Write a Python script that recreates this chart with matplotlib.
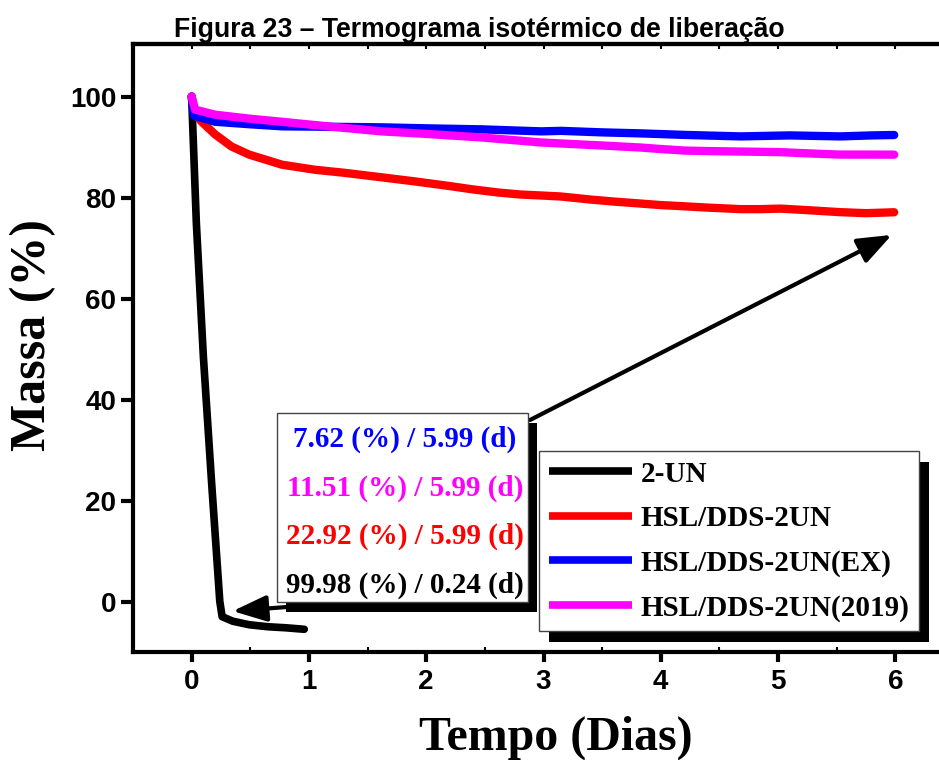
import numpy as np
import matplotlib
matplotlib.use("Agg")
import matplotlib.pyplot as plt
from matplotlib.patches import Rectangle
from matplotlib.ticker import MultipleLocator

# isothermal release data: time (days) vs mass (%)
days_2un = [0, 0.04, 0.10, 0.17, 0.24, 0.26, 0.35, 0.49, 0.65, 0.80, 0.96]
mass_2un = [100.0, 75.0, 48.5, 23.6, 0.02, -3.0, -3.9, -4.6, -5.0, -5.2, -5.5]

days_hsl = [0, 0.02, 0.085, 0.2, 0.34, 0.49, 0.77, 1.05, 1.3, 1.62, 1.9, 2.19, 2.4,
            2.61, 2.8, 2.98, 3.15, 3.4, 3.6, 3.83, 4.0, 4.17, 4.4, 4.68, 4.85,
            5.02, 5.25, 5.53, 5.75, 5.99]
mass_hsl = [100, 96.8, 95.0, 92.5, 90.1, 88.5, 86.5, 85.5, 84.9, 84.0, 83.2, 82.3,
            81.6, 81.0, 80.6, 80.4, 80.2, 79.6, 79.2, 78.8, 78.5, 78.3, 78.0, 77.7,
            77.7, 77.8, 77.5, 77.1, 76.9, 77.08]

days_ex = [0, 0.02, 0.2, 0.5, 0.77, 1.2, 1.62, 2.0, 2.47, 2.98, 3.15, 3.5, 3.83,
           4.2, 4.68, 5.1, 5.53, 5.8, 5.99]
mass_ex = [100, 96.2, 95.0, 94.5, 94.1, 94.0, 93.9, 93.7, 93.5, 93.1, 93.2, 92.9,
           92.7, 92.4, 92.1, 92.3, 92.1, 92.3, 92.38]

days_2019 = [0, 0.03, 0.2, 0.5, 0.77, 1.2, 1.62, 2.0, 2.47, 2.98, 3.15, 3.5, 3.83,
             4.0, 4.2, 4.4, 4.68, 5.0, 5.3, 5.53, 5.8, 5.99]
mass_2019 = [100, 97.4, 96.4, 95.6, 95.0, 94.0, 93.1, 92.6, 91.9, 90.9, 90.7, 90.3,
             89.9, 89.6, 89.3, 89.2, 89.1, 89.0, 88.7, 88.5, 88.5, 88.49]

series_labels = ["2-UN", "HSL/DDS-2UN", "HSL/DDS-2UN(EX)", "HSL/DDS-2UN(2019)"]
series_colors = ["black", "red", "blue", "magenta"]
series_widths = [5.5, 6, 6, 6]

# mass loss (%) / time (d) notes
loss_text = ["7.62 (%) / 5.99 (d)", "11.51 (%) / 5.99 (d)",
             "22.92 (%) / 5.99 (d)", "99.98 (%) / 0.24 (d)"]
loss_colors = ["blue", "magenta", "red", "black"]

W, H = 939, 760
SANS = "Liberation Sans"
SERIF = "Liberation Serif"


def px(x, y):
    # pixel (top-left origin) -> figure fraction
    return x / W, 1 - y / H


fig = plt.figure(figsize=(W / 100, H / 100), dpi=100)
x0, y1 = px(133, 44)
x1, y0 = px(954, 652)
ax = fig.add_axes([x0, y0, x1 - x0, y1 - y0])

curves = [(days_2un, mass_2un), (days_hsl, mass_hsl), (days_ex, mass_ex),
          (days_2019, mass_2019)]
for (d, m), lab, col, lw in zip(curves, series_labels, series_colors,
                                series_widths):
    ax.plot(d, m, color=col, lw=lw, label=lab, solid_capstyle="round",
            solid_joinstyle="round")

ax.set_xlim(-0.5, 6.5)
ax.set_ylim(-10, 110.4)
ax.set_xticks(range(0, 7))
ax.xaxis.set_minor_locator(MultipleLocator(0.5))
ax.set_yticks(range(0, 101, 20))
for s in ["left", "bottom", "top", "right"]:
    ax.spines[s].set_linewidth(3)
ax.tick_params(axis="x", which="major", direction="out", length=7, width=3, pad=5)
ax.tick_params(axis="x", which="minor", direction="in", length=3.5, width=1.5)
ax.tick_params(axis="y", which="major", direction="out", length=9, width=3, pad=3)
for lbl in ax.get_xticklabels() + ax.get_yticklabels():
    lbl.set_fontfamily(SANS)
    lbl.set_fontweight("bold")
    lbl.set_fontsize(20)

top = ax.secondary_xaxis("top")
top.set_xticks(np.arange(-0.5, 6.51, 0.5))
top.tick_params(direction="in", length=3.5, width=1.5, labeltop=False)
top.spines["top"].set_linewidth(3)

fig.text(479, H - 37, "Figura 23 – Termograma isotérmico de liberação",
         transform=None, ha="center", va="baseline", family=SANS,
         weight="bold", fontsize=19.2)
fig.text(*px(556, 738), "Tempo (Dias)", ha="center", va="center",
         family=SERIF, weight="bold", fontsize=34.5)
fig.text(*px(33, 335), "Massa (%)", ha="center", va="center", rotation=90,
         family=SERIF, weight="bold", fontsize=36)

# arrows from the note box to the curves
arrow_props = dict(arrowstyle="-|>,head_length=1.3,head_width=0.5",
                   mutation_scale=16, lw=3, color="black",
                   shrinkA=0, shrinkB=0)
ax.annotate("", xy=(5.97, 72.6), xytext=(530, H - 420),
            textcoords="figure pixels", arrowprops=arrow_props)
ax.annotate("", xy=(0.35, -1.9), xytext=(300, H - 606),
            textcoords="figure pixels", arrowprops=arrow_props)

# note box with a solid black shadow
bx0, by0 = 277, 602
bw, bh = 251, 189
fig.patches.append(Rectangle((bx0 + 9, H - by0 - 10), bw, bh, transform=None,
                             facecolor="black", edgecolor="none", zorder=6))
fig.patches.append(Rectangle((bx0, H - by0), bw, bh, transform=None,
                             facecolor="white", edgecolor="#444444", lw=1,
                             zorder=7))
for i, (t, c) in enumerate(zip(loss_text, loss_colors)):
    fig.text(405, H - (446.5 + 48.8 * i), t, transform=None, ha="center",
             va="baseline", color=c, family=SERIF, weight="bold",
             fontsize=21, zorder=8)

handles, labels = ax.get_legend_handles_labels()
leg = fig.legend(handles, labels, loc="upper left", bbox_to_anchor=px(539, 451),
                 bbox_transform=fig.transFigure, borderaxespad=0,
                 prop=dict(family=SERIF, weight="bold", size=21),
                 handlelength=2.85, handletextpad=0.3, labelspacing=0.6,
                 borderpad=0.33, fancybox=False, framealpha=1,
                 edgecolor="#444444")
leg.get_frame().set_linewidth(1)
for h in leg.get_lines():
    h.set_linewidth(5.5)
    h.set_solid_capstyle("butt")
leg.set_zorder(10)

fig.canvas.draw()
bb = leg.get_window_extent()
fig.patches.append(Rectangle((bb.x0 + 10, bb.y0 - 11), bb.width, bb.height,
                             transform=None, facecolor="black",
                             edgecolor="none", zorder=9))

fig.savefig("out.png", dpi=100)
